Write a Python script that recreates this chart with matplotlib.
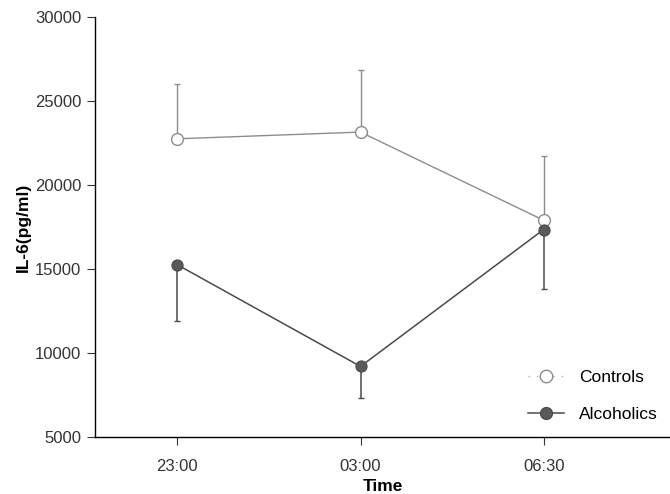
import numpy as np
import matplotlib.pyplot as plt
from matplotlib.lines import Line2D

# Data
times = ['23:00', '03:00', '06:30']
controls_mean = [22750, 23150, 17900]
controls_err_up = [3250, 3700, 3800]
alcoholics_mean = [15250, 9200, 17350]
alcoholics_err_down = [3350, 1850, 3550]


def plot_il6():
    plt.rcParams['font.family'] = ['Liberation Sans', 'DejaVu Sans']

    fig = plt.figure(figsize=(6.7, 4.94), dpi=100)
    ax = fig.add_axes([0.1418, 0.1154, 0.8582, 0.8502])

    x = np.arange(len(times))

    # Controls: open circles, upper error bars only
    ax.errorbar(x, controls_mean,
                yerr=[np.zeros(len(x)), controls_err_up],
                fmt='-', color='#8c8c8c', lw=1.0, elinewidth=1.0,
                capsize=2.3, capthick=1.0, zorder=2)
    ax.plot(x, controls_mean, 'o', markersize=8.5, markerfacecolor='white',
            markeredgecolor='#8c8c8c', markeredgewidth=1.0, zorder=3)

    # Alcoholics: filled circles, lower error bars only
    ax.errorbar(x, alcoholics_mean,
                yerr=[alcoholics_err_down, np.zeros(len(x))],
                fmt='-', color='#4a4a4a', lw=1.1, elinewidth=1.1,
                capsize=2.3, capthick=1.0, zorder=2)
    ax.plot(x, alcoholics_mean, 'o', markersize=8, markerfacecolor='#5a5a5a',
            markeredgecolor='#4a4a4a', markeredgewidth=0.8, zorder=4)

    ax.set_xlim(-0.45, 2.69)
    ax.set_ylim(5000, 30000)
    ax.set_xticks(x)
    ax.set_xticklabels(times)
    ax.set_yticks(np.arange(5000, 30001, 5000))

    ax.set_xlabel('Time', fontsize=12.5, fontweight='bold', labelpad=4)
    ax.set_ylabel('IL-6(pg/ml)', fontsize=12.5, fontweight='bold', labelpad=3)

    ax.spines['top'].set_visible(False)
    ax.spines['right'].set_visible(False)
    ax.spines['left'].set_linewidth(1.0)
    ax.spines['bottom'].set_linewidth(1.0)
    ax.tick_params(axis='both', direction='out', length=6, width=0.8,
                   labelsize=12, colors='#333333')
    ax.tick_params(axis='x', pad=9.5)
    ax.tick_params(axis='y', pad=4)

    handles = [
        Line2D([], [], color='#b0b0b0', lw=1.0, linestyle=(0, (1, 5)),
               marker='o', markersize=9, markerfacecolor='white',
               markeredgecolor='#8c8c8c'),
        Line2D([], [], color='#4a4a4a', lw=1.1, marker='o', markersize=8.5,
               markerfacecolor='#5a5a5a', markeredgecolor='#4a4a4a'),
    ]
    ax.legend(handles, ['Controls', 'Alcoholics'], loc='lower left',
              bbox_to_anchor=(0.753, 0.035), frameon=False, fontsize=12.5,
              handlelength=2.1, labelspacing=1.25, handletextpad=0.85,
              borderpad=0, borderaxespad=0)

    fig.savefig('out.png', dpi=100)


if __name__ == "__main__":
    plot_il6()
